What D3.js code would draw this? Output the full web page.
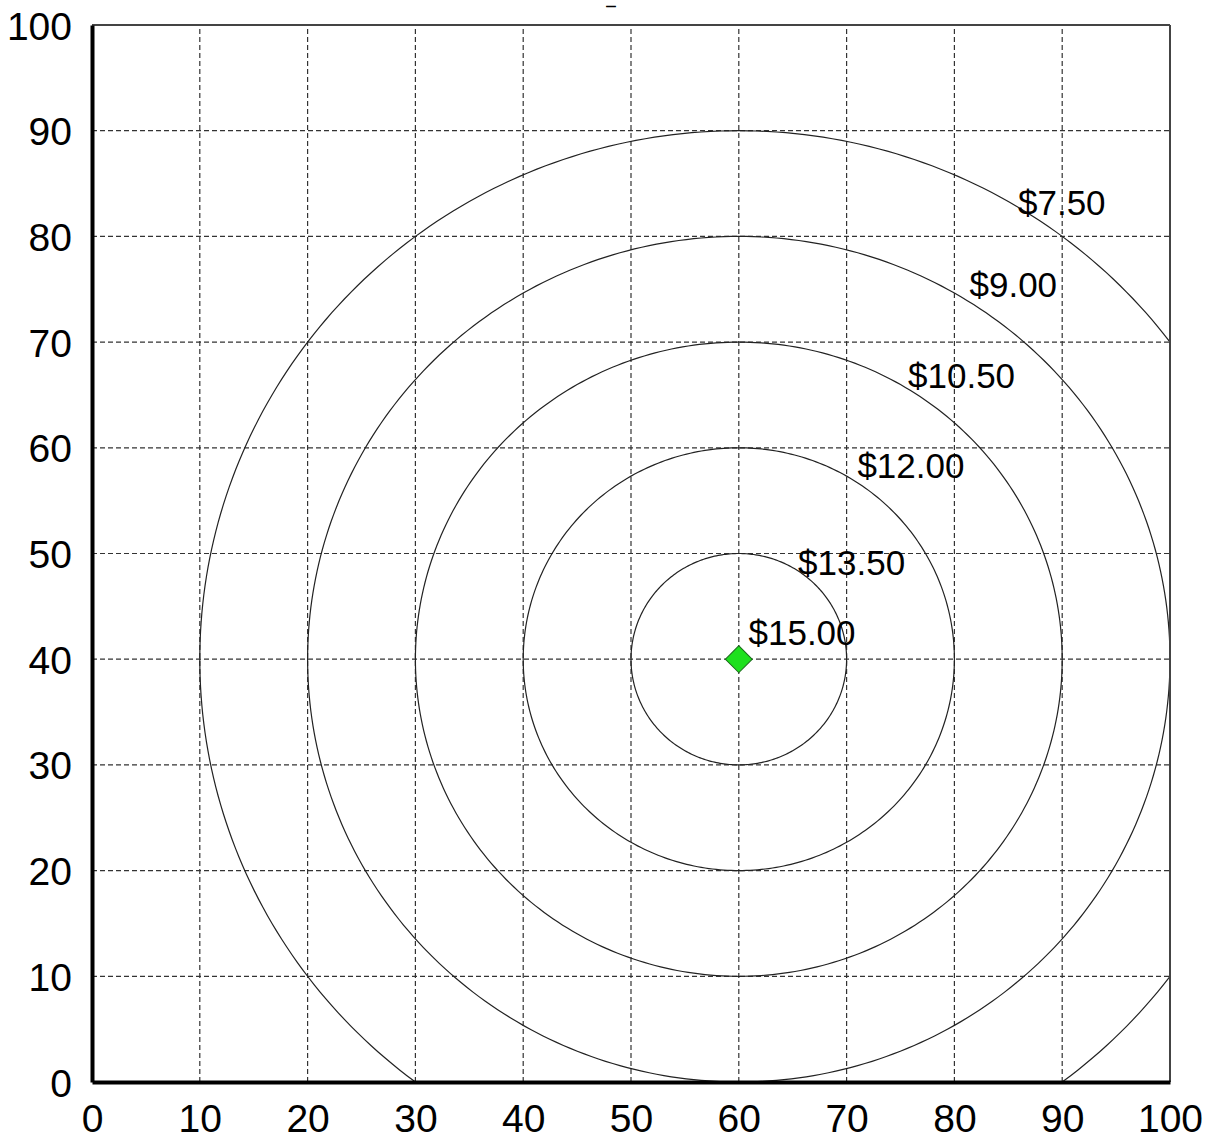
<!DOCTYPE html>
<html><head><meta charset="utf-8">
<script src="https://cdn.jsdelivr.net/npm/d3@7"></script>
<style>body{margin:0;background:#fff}svg{display:block}text{font-family:"Liberation Sans",Arial,sans-serif}</style>
</head><body><svg id="c" width="1213" height="1139"></svg>
<script>
const xTicks = [0,10,20,30,40,50,60,70,80,90,100];
const yTicks = [0,10,20,30,40,50,60,70,80,90,100];
const center = {x:60, y:40};
const radii = [10,20,30,40,50];
const levelLabels = ["$15.00","$13.50","$12.00","$10.50","$9.00","$7.50"];
const labelX = [60.9,65.5,71.0,75.7,81.4,85.9];
const labelY = [41.3,48.0,57.1,65.7,74.3,82.0];

const svg = d3.select("#c");
const x = d3.scaleLinear().domain([0,100]).range([92,1170]);
const y = d3.scaleLinear().domain([0,100]).range([1082,25]);

svg.append("defs").append("clipPath").attr("id","clip")
  .append("rect").attr("x",x(0)).attr("y",y(100)).attr("width",x(100)-x(0)).attr("height",y(0)-y(100));

// grid
const g = svg.append("g");
g.selectAll("line.gx").data(xTicks.slice(1,-1)).join("line")
  .attr("x1",d=>x(d)).attr("x2",d=>x(d)).attr("y1",y(0)).attr("y2",y(100))
  .attr("stroke","#333").attr("stroke-width",1.2).attr("stroke-dasharray","5,3");
g.selectAll("line.gy").data(yTicks.slice(1,-1)).join("line")
  .attr("y1",d=>y(d)).attr("y2",d=>y(d)).attr("x1",x(0)).attr("x2",x(100))
  .attr("stroke","#333").attr("stroke-width",1.2).attr("stroke-dasharray","5,3");

// circles
const line = d3.line().x(d=>x(d[0])).y(d=>y(d[1]));
const cg = svg.append("g").attr("clip-path","url(#clip)");
radii.forEach(r=>{
  const pts = d3.range(0,361,1).map(a=>[center.x + r*Math.cos(a*Math.PI/180), center.y + r*Math.sin(a*Math.PI/180)]);
  cg.append("path").attr("d",line(pts)).attr("fill","none").attr("stroke","#222").attr("stroke-width",1.2);
});

// borders
svg.append("line").attr("x1",x(0)).attr("x2",x(100)).attr("y1",y(100)).attr("y2",y(100)).attr("stroke","#444").attr("stroke-width",2);
svg.append("line").attr("x1",x(100)).attr("x2",x(100)).attr("y1",y(100)).attr("y2",y(0)).attr("stroke","#444").attr("stroke-width",2);

// axes
const xa = svg.append("g").attr("transform",`translate(0,${y(0)})`)
  .call(d3.axisBottom(x).tickValues(xTicks).tickSize(0).tickPadding(22));
const ya = svg.append("g").attr("transform",`translate(${x(0)},0)`)
  .call(d3.axisLeft(y).tickValues(yTicks).tickSize(0).tickPadding(20));
[xa,ya].forEach(a=>{
  a.select(".domain").attr("stroke","#000").attr("stroke-width",4);
  a.selectAll("text").attr("font-size",39).attr("fill","#000").attr("font-family","Liberation Sans, Arial, sans-serif");
});
ya.selectAll("text").attr("dy","0.36em");
xa.selectAll("text").attr("dy","0.71em");

// marker
svg.append("path").attr("d",d3.symbol(d3.symbolSquare, 360)())
  .attr("transform",`translate(${x(center.x)},${y(center.y)}) rotate(45)`)
  .attr("fill","#1ee01e").attr("stroke","#1a6a1a").attr("stroke-width",1);

// labels
svg.selectAll("text.lbl").data(levelLabels).join("text").attr("class","lbl")
  .attr("x",(d,i)=>x(labelX[i])).attr("y",(d,i)=>y(labelY[i]))
  .attr("font-size",35).attr("fill","#000").text(d=>d);

// clipped title remnant
svg.append("text").attr("x",611).attr("y",9).attr("text-anchor","middle")
  .attr("font-size",9).attr("font-weight","bold").attr("stroke","#000").attr("stroke-width",0.8).text("—");
</script></body></html>
